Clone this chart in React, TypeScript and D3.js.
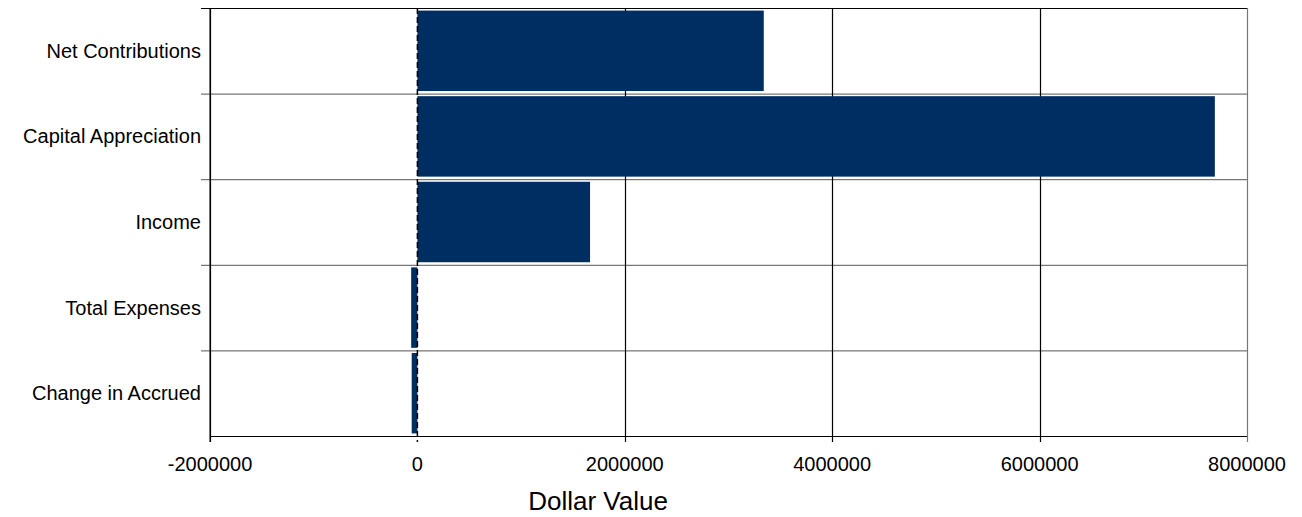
import React from 'react';
import * as d3 from 'd3';

const categories = ['Net Contributions', 'Capital Appreciation', 'Income', 'Total Expenses', 'Change in Accrued'];
const values = [3340000, 7690000, 1665000, -60000, -55000];
const xTicks = [-2000000, 0, 2000000, 4000000, 6000000, 8000000];

const App: React.FC = () => {
  const width = 1302, height = 517;
  const left = 210, right = 1247, top = 8, bottom = 436;
  const x = d3.scaleLinear().domain([-2000000, 8000000]).range([left, right]);
  const y = d3.scaleBand().domain(categories).range([top, bottom]).paddingInner(0.06).paddingOuter(0.03);
  const bandStep = (bottom - top) / categories.length;
  const font = 'Liberation Sans, Arial, sans-serif';

  return (
    <svg width={width} height={height} style={{ position: 'absolute', left: 0, top: 0 }}>
      <rect x={0} y={0} width={width} height={height} fill="#fff" />
      {/* horizontal band lines */}
      {d3.range(categories.length + 1).map(i => (
        <line key={'h' + i} x1={i === categories.length ? left : 201} x2={right}
          y1={top + i * bandStep + 0.5} y2={top + i * bandStep + 0.5}
          stroke={i === 0 || i === categories.length ? '#000' : '#555'} strokeWidth={1} />
      ))}
      {/* vertical grid */}
      {xTicks.filter(t => t !== 0).map(t => (
        <line key={'v' + t} x1={Math.round(x(t)) + 0.5} x2={Math.round(x(t)) + 0.5} y1={top} y2={bottom + 6}
          stroke={t === 8000000 ? '#777' : '#000'} strokeWidth={1.2} />
      ))}
      {/* left axis line */}
      <rect x={x(-2000000) - 0.5} y={top} width={1.5} height={bottom + 6 - top} fill="#000" />
      {/* bars */}
      {categories.map((c, i) => (
        <rect key={c} x={Math.min(x(0), x(values[i]))} y={y(c)!}
          width={Math.abs(x(values[i]) - x(0))} height={y.bandwidth()} fill="#002d62" />
      ))}
      {/* zero line */}
      <line x1={x(0)} x2={x(0)} y1={top} y2={bottom + 6} stroke="#000" strokeWidth={1.5} strokeDasharray="6,3" />
      {/* category labels */}
      {categories.map(c => (
        <text key={'l' + c} x={201} y={y(c)! + y.bandwidth() / 2} dy="0.35em" textAnchor="end"
          fontFamily={font} fontSize={20} fill="#000">{c}</text>
      ))}
      {xTicks.map(t => (
        <text key={'t' + t} x={x(t)} y={471} textAnchor="middle" fontFamily={font} fontSize={20} fill="#000">{t}</text>
      ))}
      <text x={598} y={510} textAnchor="middle" fontFamily={font} fontSize={26} fill="#000">Dollar Value</text>
    </svg>
  );
};

export default App;
